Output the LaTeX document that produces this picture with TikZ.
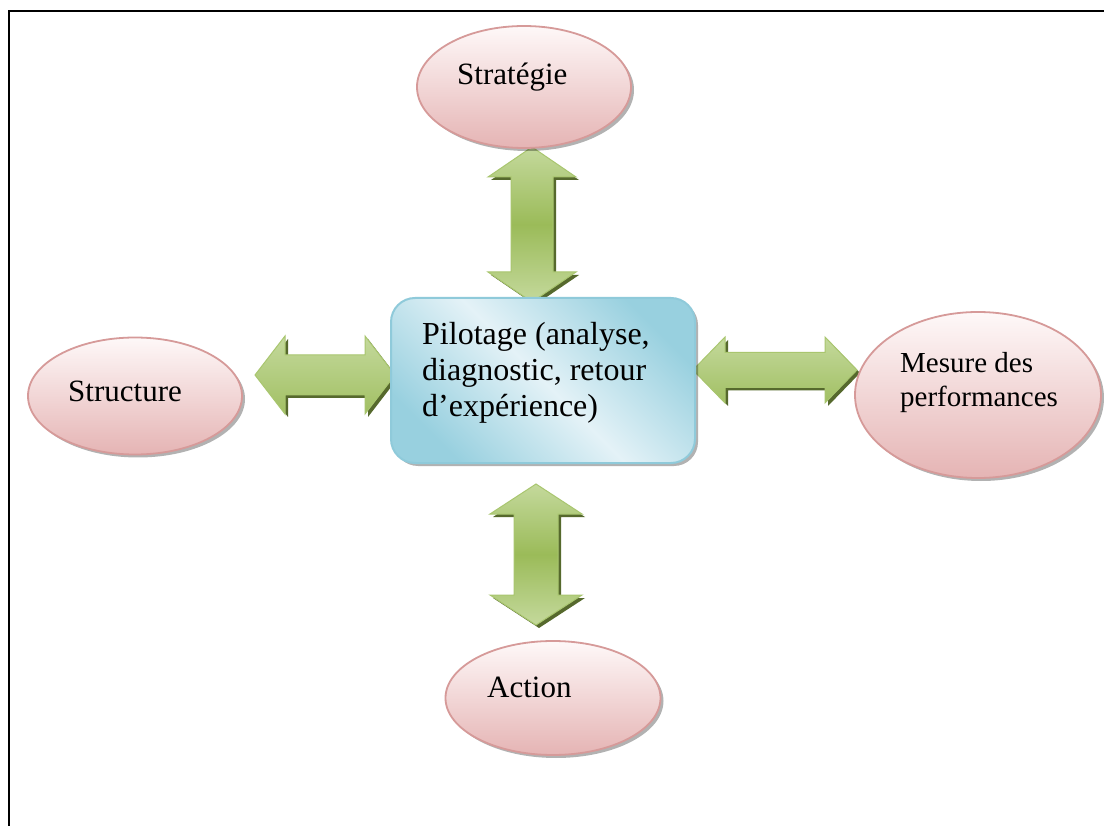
\documentclass[tikz,border=0pt]{standalone}
\usepackage{fontspec}
\setmainfont{Liberation Serif}
\usetikzlibrary{shapes.geometric,shadows}

\definecolor{pinkline}{HTML}{D69A99}
\definecolor{pinktop}{HTML}{FEF8F8}
\definecolor{pinkbot}{HTML}{E5B4B4}
\definecolor{greenM}{HTML}{9BBB59}
\definecolor{greenL}{HTML}{C4D99C}
\definecolor{greenD}{HTML}{56692D}
\definecolor{greenE}{HTML}{A9C66F}
\definecolor{blueline}{HTML}{8FCADA}
\definecolor{blueD}{HTML}{98D0DF}
\definecolor{blueL}{HTML}{E4F2F7}

\tikzset{
  bubble/.style={ellipse, draw=pinkline, line width=1.8pt, inner sep=0pt,
    top color=pinktop, bottom color=pinkbot,
    drop shadow={shadow xshift=3pt, shadow yshift=-3pt, fill=black, opacity=0.3}},
  pilot/.style={rectangle, rounded corners=24pt, draw=blueline, line width=2pt,
    left color=blueD, right color=blueD, middle color=blueL, shading angle=135,
    drop shadow={shadow xshift=3pt, shadow yshift=-3pt, fill=black, opacity=0.3}},
  lbl/.style={anchor=base west, inner sep=0pt, font=\fontsize{31}{37}\selectfont},
  arrowshadow/.style={fill=greenD},
  arrowbody/.style={draw=greenE, line width=1pt},
  frameline/.style={line width=2.4pt, black}
}

% vertical double arrow: centre x, top tip y, bottom tip y, head half width, shaft half width, head length
\newcommand\vdarrow[6]{%
  \path[arrowshadow, shift={(3,3)}]
    (#1,#2) -- (#1+#4,#2+#6) -- (#1+#5,#2+#6) -- (#1+#5,#3-#6) -- (#1+#4,#3-#6) --
    (#1,#3) -- (#1-#4,#3-#6) -- (#1-#5,#3-#6) -- (#1-#5,#2+#6) -- (#1-#4,#2+#6) -- cycle;
  \path[arrowbody, top color=greenL, bottom color=greenL, middle color=greenM]
    (#1,#2) -- (#1+#4,#2+#6) -- (#1+#5,#2+#6) -- (#1+#5,#3-#6) -- (#1+#4,#3-#6) --
    (#1,#3) -- (#1-#4,#3-#6) -- (#1-#5,#3-#6) -- (#1-#5,#2+#6) -- (#1-#4,#2+#6) -- cycle;
}
% horizontal double arrow: centre y, left tip x, right tip x, head half width, shaft half width, head length
\newcommand\hdarrow[6]{%
  \path[arrowshadow, shift={(3,3)}]
    (#2,#1) -- (#2+#6,#1-#4) -- (#2+#6,#1-#5) -- (#3-#6,#1-#5) -- (#3-#6,#1-#4) --
    (#3,#1) -- (#3-#6,#1+#4) -- (#3-#6,#1+#5) -- (#2+#6,#1+#5) -- (#2+#6,#1+#4) -- cycle;
  \path[arrowbody, top color=greenL, bottom color=greenM!85!greenL]
    (#2,#1) -- (#2+#6,#1-#4) -- (#2+#6,#1-#5) -- (#3-#6,#1-#5) -- (#3-#6,#1-#4) --
    (#3,#1) -- (#3-#6,#1+#4) -- (#3-#6,#1+#5) -- (#2+#6,#1+#5) -- (#2+#6,#1+#4) -- cycle;
}

\begin{document}
\begin{tikzpicture}[x=1pt, y=-1pt]
  \useasboundingbox (0,0) rectangle (1104,826);
  \fill[white] (0,0) rectangle (1104,826);

  % page frame (top and left edges)
  \draw[frameline] (9,826) -- (9,11) -- (1104,11);

  % connectors
  \vdarrow{532}{147}{302}{44}{21}{30}
  \vdarrow{536}{484}{625}{46}{22}{30}
  \hdarrow{375}{255}{395}{39}{20}{30}
  \hdarrow{370}{693}{857}{33}{17.5}{32}

  % bubbles
  \node[bubble, minimum width=214pt, minimum height=122pt] (strat) at (524,87) {};
  \node[bubble, minimum width=214pt, minimum height=117pt] (struct) at (135,396) {};
  \node[bubble, minimum width=246pt, minimum height=166pt] (mesure) at (978,395) {};
  \node[bubble, minimum width=215pt, minimum height=114pt] (action) at (553,698) {};

  % central box
  \node[pilot, minimum width=304pt, minimum height=165pt] (pilot) at (543,380.5) {};

  % texts (multi-line nodes sit on the baseline of their last line)
  \node[lbl] (tstrat) at (457,85) {Stratégie};
  \node[lbl] (tstruct) at (68,402) {Structure};
  \node[lbl] (taction) at (487,697) {Action};
  \node[lbl, font=\fontsize{29}{35}\selectfont, align=left] (tmesure) at (900,407)
    {Mesure des\\performances};
  \node[lbl, font=\fontsize{32}{36}\selectfont, align=left] (tpilot) at (422,417)
    {Pilotage (analyse,\\diagnostic, retour\\d’expérience)};
\end{tikzpicture}
\end{document}
